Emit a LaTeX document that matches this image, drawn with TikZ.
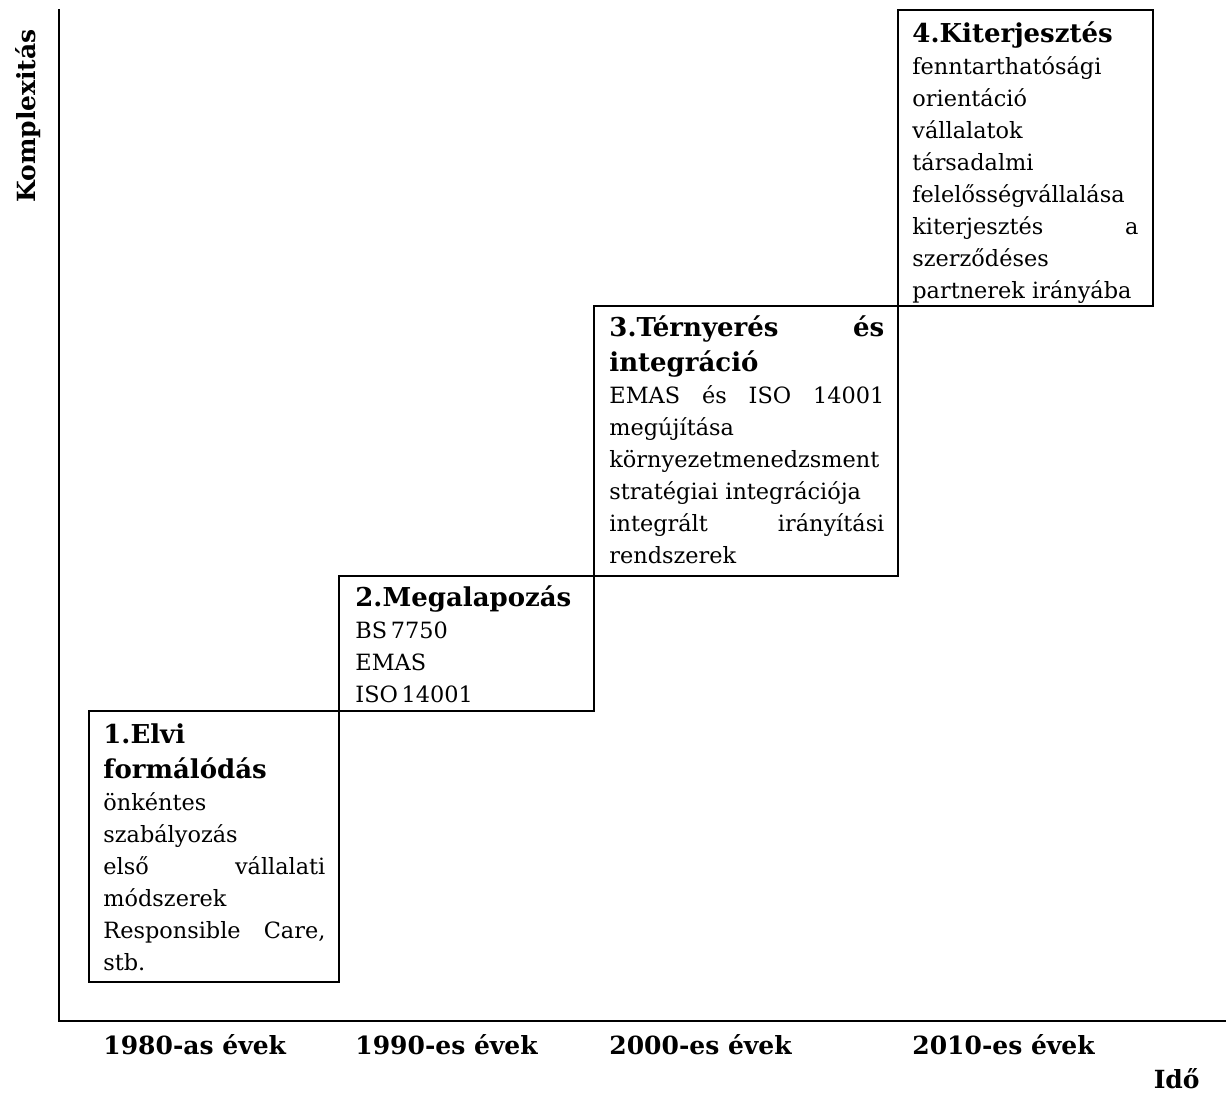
\documentclass[tikz,border=0pt]{standalone}
\usepackage{fontspec}
\setmainfont{DejaVu Serif}
\begin{document}
\begin{tikzpicture}[x=0.5pt,y=-0.5pt,
  frame/.style={draw=black,line width=1.1pt},
  axis/.style={draw=black,line width=1.1pt},
  boxtext/.style={anchor=base west,inner sep=0pt},
  axislabel/.style={inner sep=0pt,font=\fontsize{12.5}{15}\selectfont\bfseries}]
\useasboundingbox (0,0) rectangle (1226,1094);
\newcommand{\stagetitle}{\fontsize{13}{17.5}\selectfont\bfseries}
\newcommand{\stagebody}{\fontsize{11.2}{16}\selectfont\mdseries}

% axes
\coordinate (top) at (59,9);
\coordinate (origin) at (59,1021);
\coordinate (right) at (1226,1021);
\draw[axis] (top) -- (origin) -- (right);

% stage frames
\draw[frame] (89,711) rectangle (339,982);
\draw[frame] (339,576) rectangle (594,711);
\draw[frame] (594,306) rectangle (898,576);
\draw[frame] (898,10) rectangle (1153,306);

% stage texts
\node[boxtext] (s1) at (103,743) {\parbox[t]{111pt}{\raggedright
  \stagetitle 1.Elvi\\ formálódás\par
  \stagebody önkéntes\\ szabályozás\\ első\hfill vállalati\\ módszerek\\
  Responsible\hfill Care,\\ stb.}};
\node[boxtext] (s2) at (355,606) {\parbox[t]{113pt}{\raggedright
  \stagetitle 2.Megalapozás\par
  \stagebody BS\,7750\\ EMAS\\ ISO\,14001}};
\node[boxtext] (s3) at (609,336) {\parbox[t]{137.5pt}{\raggedright
  \stagetitle 3.Térnyerés\hfill és\\ integráció\par
  \stagebody EMAS\hfill és\hfill ISO\hfill 14001\\ megújítása\\
  környezetmenedzsment\\ stratégiai integrációja\\
  integrált\hfill irányítási\\ rendszerek}};
\node[boxtext] (s4) at (912,42) {\parbox[t]{113pt}{\raggedright
  \stagetitle 4.Kiterjesztés\par
  \stagebody fenntarthatósági\\ orientáció\\ vállalatok\\ társadalmi\\
  felelősségvállalása\\ kiterjesztés\hfill a\\ szerződéses\\
  partnerek irányába}};

% axis labels
\node[axislabel,rotate=90] (ylab) at (28,116) {Komplexitás};
\node[axislabel,anchor=base west] (d1) at (103,1054) {1980-as évek};
\node[axislabel,anchor=base west] (d2) at (355,1054) {1990-es évek};
\node[axislabel,anchor=base west] (d3) at (609,1054) {2000-es évek};
\node[axislabel,anchor=base west] (d4) at (912,1054) {2010-es évek};
\node[axislabel,anchor=base east] (xlab) at (1200,1088) {Idő};
\end{tikzpicture}
\end{document}
